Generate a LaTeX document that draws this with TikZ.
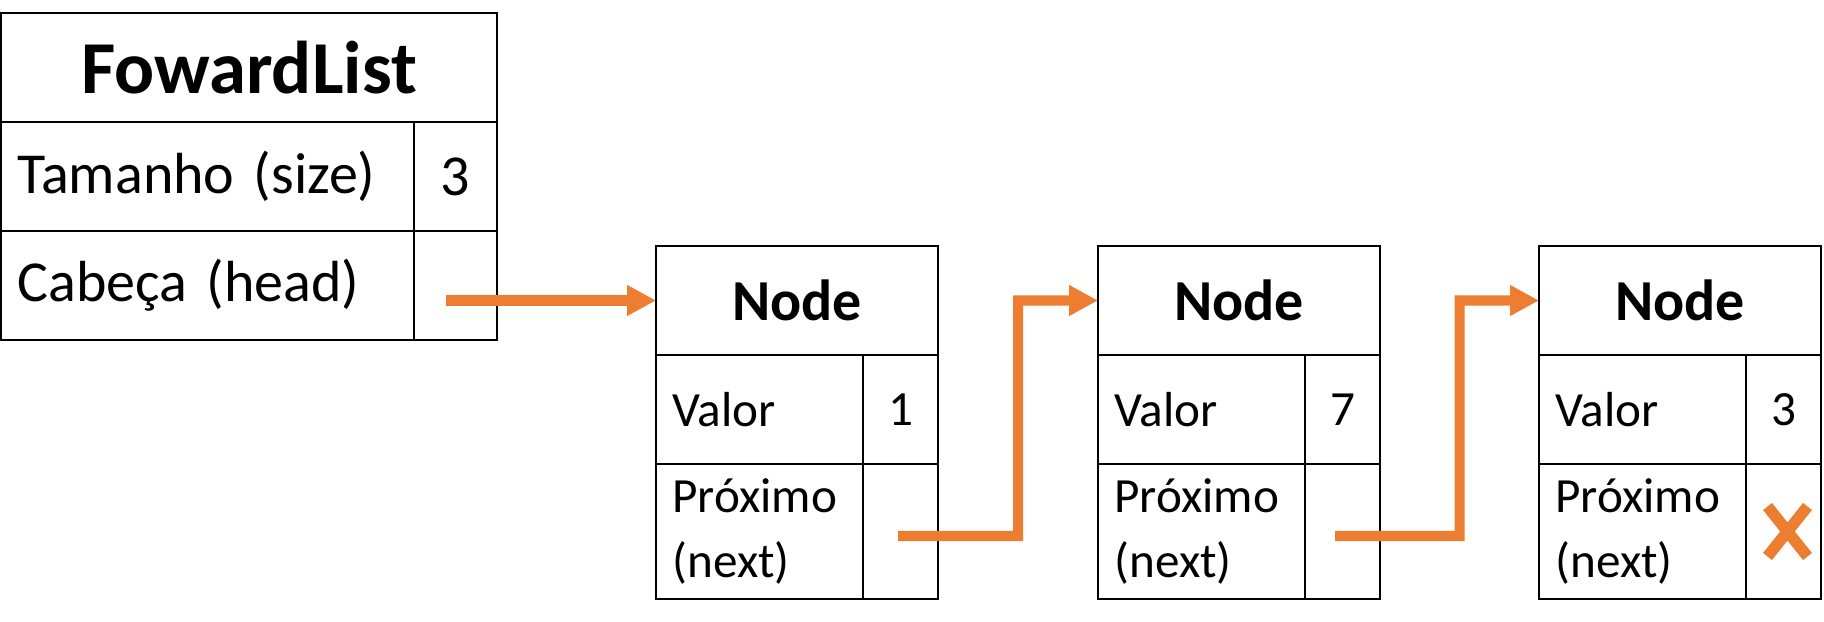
\documentclass[tikz,border=0pt]{standalone}
\usepackage{fontspec}
\setmainfont{Carlito}
\usetikzlibrary{arrows.meta,positioning,calc}
\definecolor{ptrorange}{HTML}{ED7D31}

\begin{document}
\begin{tikzpicture}[
  cell/.style={draw, line width=1.4pt, inner sep=0pt, outer sep=0pt, minimum height=2.18cm},
  head/.style={cell, font=\bfseries\fontsize{33}{38}\selectfont},
  field/.style={cell, align=left, inner xsep=0.33cm, font=\fontsize{28}{36.5}\selectfont},
  val/.style={cell, font=\fontsize{28}{34}\selectfont},
  ptr/.style={draw=ptrorange, line width=5.7pt, -{Triangle[length=16.5pt,width=16.5pt]}}
]
\useasboundingbox (0,0) rectangle (36.48,-12.44);

\node[head, anchor=north west, minimum width=9.92cm, font=\bfseries\fontsize{42.5}{50}\selectfont] (fl) at (0.02,-0.26) {FowardList};
\node[field, text width=7.6cm, font=\fontsize{33}{38}\selectfont, below right=0pt and 0pt of fl.south west] (fls) {Tamanho (size)};
\node[val, minimum width=1.66cm, font=\fontsize{33}{38}\selectfont, right=0pt of fls] (flsv) {3};
\node[field, text width=7.6cm, font=\fontsize{33}{38}\selectfont, below right=0pt and 0pt of fls.south west] (flh) {Cabeça (head)};
\node[val, minimum width=1.66cm, right=0pt of flh] (flhv) {};

\node[head, anchor=north west, minimum width=5.64cm] (n1) at (13.12,-4.92) {Node};
\node[field, text width=3.48cm, below right=0pt and 0pt of n1.south west] (n1v) {Valor};
\node[val, minimum width=1.5cm, right=0pt of n1v] (n1vv) {1};
\node[field, text width=3.48cm, minimum height=2.7cm, below right=0pt and 0pt of n1v.south west] (n1n) {Próximo\\(next)};
\node[val, minimum width=1.5cm, minimum height=2.7cm, right=0pt of n1n] (n1nv) {};

\node[head, anchor=north west, minimum width=5.64cm] (n2) at (21.96,-4.92) {Node};
\node[field, text width=3.48cm, below right=0pt and 0pt of n2.south west] (n2v) {Valor};
\node[val, minimum width=1.5cm, right=0pt of n2v] (n2vv) {7};
\node[field, text width=3.48cm, minimum height=2.7cm, below right=0pt and 0pt of n2v.south west] (n2n) {Próximo\\(next)};
\node[val, minimum width=1.5cm, minimum height=2.7cm, right=0pt of n2n] (n2nv) {};

\node[head, anchor=north west, minimum width=5.64cm] (n3) at (30.78,-4.92) {Node};
\node[field, text width=3.48cm, below right=0pt and 0pt of n3.south west] (n3v) {Valor};
\node[val, minimum width=1.5cm, right=0pt of n3v] (n3vv) {3};
\node[field, text width=3.48cm, minimum height=2.7cm, below right=0pt and 0pt of n3v.south west] (n3n) {Próximo\\(next)};
\node[val, minimum width=1.5cm, minimum height=2.7cm, right=0pt of n3n] (n3nv) {};

\coordinate (b1) at ($(n1.east)!0.5!(n2.west)$);
\coordinate (b2) at ($(n2.east)!0.5!(n3.west)$);

\draw[ptr] ($(flhv.center |- n1.west)+(-0.19,0)$) -- (n1.west);
\draw[ptr] ($(n1nv.center)+(-0.05,-0.09)$) -| (b1) -- (n2.west);
\draw[ptr] ($(n2nv.center)+(-0.15,-0.09)$) -| (b2) -- (n3.west);

\draw[ptrorange, line width=6.5pt] ([shift={(-0.32,0.50)}]n3nv.center) -- ([shift={(0.48,-0.50)}]n3nv.center)
  ([shift={(-0.32,-0.50)}]n3nv.center) -- ([shift={(0.48,0.50)}]n3nv.center);
\end{tikzpicture}
\end{document}
